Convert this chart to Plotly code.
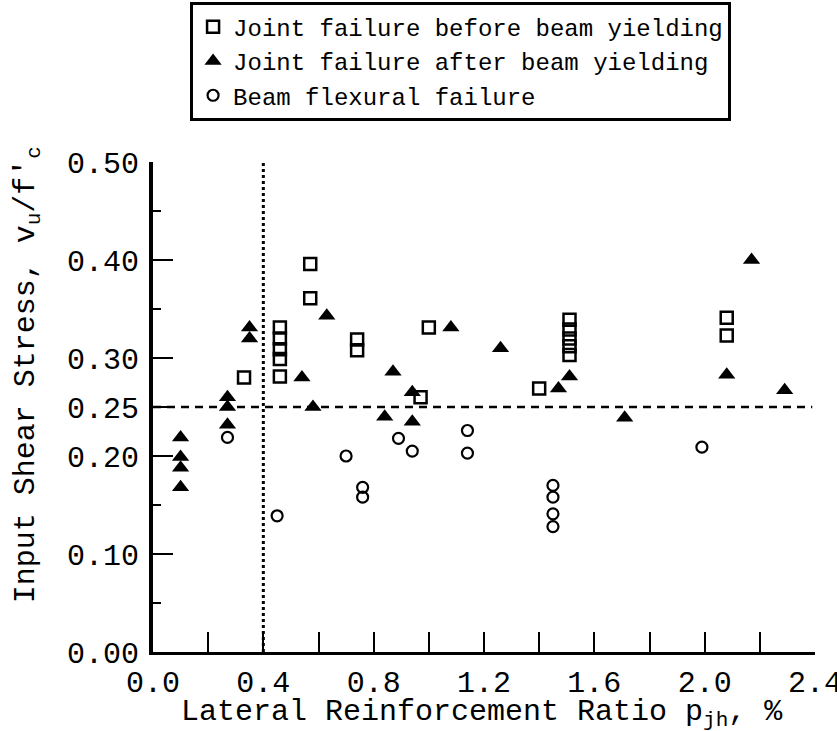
import plotly.graph_objects as go

# ---- data ----
sq_x = [0.33, 0.46, 0.46, 0.46, 0.46, 0.46, 0.57, 0.57, 0.74, 0.74, 0.97, 1.00, 1.40,
        1.51, 1.51, 1.51, 1.51, 1.51, 2.08, 2.08]
sq_y = [0.280, 0.331, 0.320, 0.309, 0.299, 0.281, 0.396, 0.361, 0.319, 0.308, 0.260, 0.331, 0.269,
        0.339, 0.329, 0.320, 0.312, 0.303, 0.341, 0.323]

tri_x = [0.10, 0.10, 0.10, 0.10, 0.27, 0.27, 0.27, 0.35, 0.35, 0.54, 0.58, 0.63, 0.84, 0.87,
         0.94, 0.94, 1.08, 1.26, 1.47, 1.51, 1.71, 2.08, 2.17, 2.29]
tri_y = [0.219, 0.199, 0.188, 0.168, 0.260, 0.250, 0.232, 0.331, 0.320, 0.280, 0.250, 0.343, 0.240, 0.286,
         0.265, 0.235, 0.331, 0.310, 0.269, 0.281, 0.239, 0.283, 0.400, 0.267]

cir_x = [0.27, 0.45, 0.70, 0.76, 0.76, 0.89, 0.94, 1.14, 1.14, 1.45, 1.45, 1.45, 1.45, 1.99]
cir_y = [0.219, 0.139, 0.200, 0.168, 0.158, 0.218, 0.205, 0.226, 0.203, 0.170, 0.158, 0.141, 0.128, 0.209]

names = ["Joint failure before beam yielding",
         "Joint failure after beam yielding",
         "Beam flexural failure"]

ref_x = 0.4    # vertical reference line
ref_y = 0.25   # horizontal reference line

x_tickvals = [0.0, 0.2, 0.4, 0.6, 0.8, 1.0, 1.2, 1.4, 1.6, 1.8, 2.0, 2.2, 2.4]
x_ticktext = ["0.0", "", "0.4", "", "0.8", "", "1.2", "", "1.6", "", "2.0", "", "2.4"]
y_tickvals = [0.0, 0.10, 0.20, 0.25, 0.30, 0.40, 0.50]
y_ticktext = ["0.00", "0.10", "0.20", "0.25", "0.30", "0.40", "0.50"]
y_minor = [0.05, 0.15, 0.35, 0.45]

FONT = "Liberation Mono"

fig = go.Figure()
fig.add_trace(go.Scatter(x=sq_x, y=sq_y, mode="markers", name=names[0],
                         marker=dict(symbol="square-open", size=12, color="black",
                                     line=dict(width=2.5, color="black"))))
fig.add_trace(go.Scatter(x=tri_x, y=tri_y, mode="markers", name=names[1],
                         marker=dict(symbol="triangle-up", size=15, color="black",
                                     line=dict(width=0))))
fig.add_trace(go.Scatter(x=cir_x, y=cir_y, mode="markers", name=names[2],
                         marker=dict(symbol="circle-open", size=11, color="black",
                                     line=dict(width=2.2, color="black"))))

# reference lines
fig.add_shape(type="line", xref="x", yref="y", x0=ref_x, x1=ref_x, y0=0, y1=0.5,
              line=dict(color="black", width=3, dash="dot"))
fig.add_shape(type="line", xref="x", yref="y", x0=0, x1=2.39, y0=ref_y, y1=ref_y,
              line=dict(color="black", width=2.5, dash="8px,6px"))

fig.update_xaxes(range=[0, 2.4], showline=True, linewidth=3, linecolor="black",
                 ticks="inside", ticklen=20, tickwidth=2, tickcolor="black",
                 tickmode="array", tickvals=x_tickvals, ticktext=x_ticktext,
                 showgrid=False, zeroline=False, mirror=False, automargin=False,
                 tickfont=dict(family=FONT, size=30, color="black"),
                 ticklabelstandoff=1, ticklabeloverflow="allow")
fig.update_yaxes(range=[0, 0.5], showline=True, linewidth=4, linecolor="black",
                 ticks="inside", ticklen=20, tickwidth=2, tickcolor="black",
                 tickmode="array", tickvals=y_tickvals, ticktext=y_ticktext,
                 minor=dict(tickmode="array", tickvals=y_minor, ticks="inside",
                            ticklen=8, tickwidth=2, tickcolor="black", showgrid=False),
                 showgrid=False, zeroline=False, mirror=False, automargin=False,
                 tickfont=dict(family=FONT, size=30, color="black"),
                 ticklabelstandoff=4, ticklabeloverflow="allow")

fig.add_annotation(xref="paper", yref="paper", x=-0.19, y=0.565, textangle=-90,
                   text="Input Shear Stress, v<sub>u</sub>/f'<sub>c</sub>",
                   showarrow=False, xanchor="center", yanchor="middle",
                   font=dict(family=FONT, size=30, color="black"))
fig.add_annotation(xref="paper", yref="paper", x=0.497, y=-0.1245,
                   text="Lateral Reinforcement Ratio p<sub>jh</sub>, %",
                   showarrow=False, xanchor="center", yanchor="middle",
                   font=dict(family=FONT, size=30, color="black"))

fig.update_layout(
    width=837, height=731,
    margin=dict(l=153, r=22, t=162, b=79, autoexpand=False),
    paper_bgcolor="white", plot_bgcolor="white",
    showlegend=True,
    legend=dict(x=0.056, y=1.327, xanchor="left", yanchor="top",
                bordercolor="black", borderwidth=3, bgcolor="white",
                font=dict(family=FONT, size=24, color="black"),
                tracegroupgap=0, itemwidth=30),
)

fig.write_html("out.html")
